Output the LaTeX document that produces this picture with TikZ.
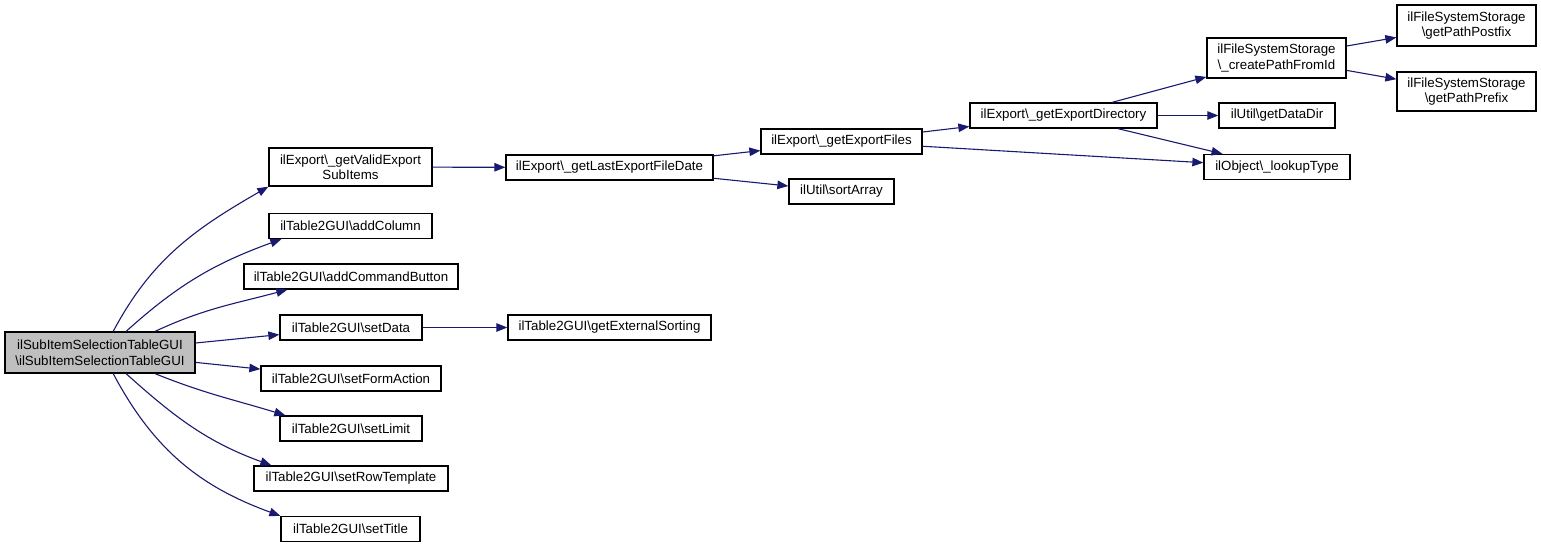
\documentclass[tikz,border=0pt]{standalone}
\usepackage{fontspec}
\setmainfont{Liberation Sans}
\usetikzlibrary{arrows.meta}
\definecolor{edgeblue}{RGB}{25,25,112}
\definecolor{rootgray}{RGB}{191,191,191}
\newcommand{\bsl}{\textbackslash{}}
\tikzset{
  fn/.style={draw=black,fill=white,rectangle,line width=1.3pt,inner xsep=2pt,inner ysep=2pt,
    minimum height=25pt,align=center,font=\fontsize{13.3}{15.5}\selectfont},
  call/.style={draw=edgeblue,line width=1.1pt,-{Triangle[length=11pt,width=8.5pt]},fill=none}
}
\begin{document}
\begin{tikzpicture}[x=1pt,y=1pt]
\useasboundingbox (0,0) rectangle (1541,-549);
% caller
\node[fn,fill=rootgray,minimum width=190pt,minimum height=41pt] (root) at (100,-352.5)
  {ilSubItemSelectionTableGUI\\\bsl ilSubItemSelectionTableGUI};
% first level
\node[fn,minimum width=163pt,minimum height=38pt] (valid) at (350.5,-167) {ilExport\bsl\_getValidExport\\SubItems};
\node[fn,minimum width=163pt] (addcol) at (350.5,-226) {ilTable2GUI\bsl addColumn};
\node[fn,minimum width=214pt] (addcmd) at (351,-276.5) {ilTable2GUI\bsl addCommandButton};
\node[fn,minimum width=142pt] (setdata) at (351,-327.5) {ilTable2GUI\bsl setData};
\node[fn,minimum width=180pt] (setform) at (351,-378.5) {ilTable2GUI\bsl setFormAction};
\node[fn,minimum width=142pt] (setlimit) at (351,-428.5) {ilTable2GUI\bsl setLimit};
\node[fn,minimum width=194pt] (setrow) at (351,-478.5) {ilTable2GUI\bsl setRowTemplate};
\node[fn,minimum width=139pt] (settitle) at (350.5,-529) {ilTable2GUI\bsl setTitle};
% further levels
\node[fn,minimum width=207pt] (lastdate) at (609.5,-167.5) {ilExport\bsl\_getLastExportFileDate};
\node[fn,minimum width=203pt] (extsort) at (609.5,-327.5) {ilTable2GUI\bsl getExternalSorting};
\node[fn,minimum width=161pt] (files) at (841.5,-141.5) {ilExport\bsl\_getExportFiles};
\node[fn,minimum width=105pt] (sortarr) at (841.5,-191.5) {ilUtil\bsl sortArray};
\node[fn,minimum width=187pt] (expdir) at (1063.5,-115.5) {ilExport\bsl\_getExportDirectory};
\node[fn,minimum width=139pt,minimum height=40pt] (mkpath) at (1276.5,-58) {ilFileSystemStorage\\\bsl\_createPathFromId};
\node[fn,minimum width=116pt] (datadir) at (1277,-115.5) {ilUtil\bsl getDataDir};
\node[fn,minimum width=146pt] (lookup) at (1277,-167) {ilObject\bsl\_lookupType};
\node[fn,minimum width=139pt,minimum height=41pt] (postfix) at (1466.5,-25.5) {ilFileSystemStorage\\\bsl getPathPostfix};
\node[fn,minimum width=139pt,minimum height=39pt] (prefix) at (1466.5,-91.5) {ilFileSystemStorage\\\bsl getPathPrefix};
% calls from the constructor
\draw[call] (root.58) to[out=62,in=-150] (valid.south west);
\draw[call] (root.39) to[out=42,in=-160] ([xshift=13pt]addcol.south west);
\draw[call] (root.21) to[out=25,in=-165] ([xshift=44pt]addcmd.south west);
\draw[call] (root) -- (setdata);
\draw[call] (root) -- (setform);
\draw[call] (root.-21) to[out=-22,in=163] ([xshift=6pt]setlimit.north west);
\draw[call] (root.-39) to[out=-42,in=160] ([xshift=18pt]setrow.north west);
\draw[call] (root.-58) to[out=-62,in=160] (settitle.north west);
% deeper calls
\draw[call] (valid) -- (lastdate);
\draw[call] (setdata) -- (extsort);
\draw[call] (lastdate) -- (files);
\draw[call] (lastdate) -- (sortarr);
\draw[call] (files) -- (expdir);
\draw[call] (files) -- (lookup);
\draw[call] (expdir) -- (mkpath);
\draw[call] (expdir) -- (datadir);
\draw[call] (expdir) -- (lookup);
\draw[call] (mkpath) -- (postfix);
\draw[call] (mkpath) -- (prefix);
\end{tikzpicture}
\end{document}
